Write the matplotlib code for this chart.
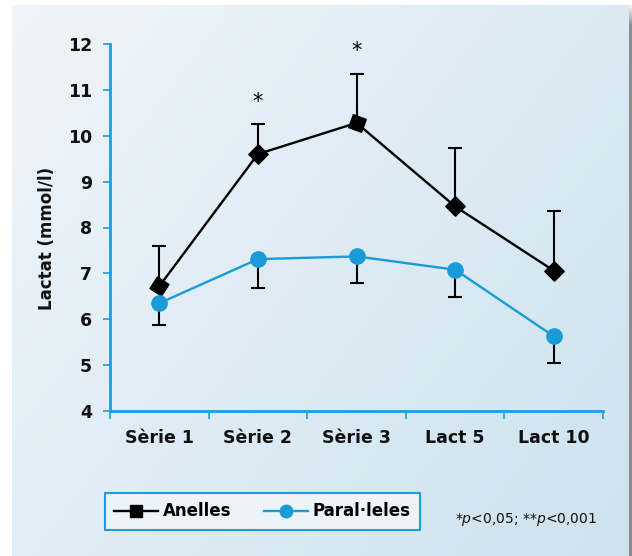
import numpy as np
import matplotlib
matplotlib.use("Agg")
import matplotlib.pyplot as plt
from matplotlib.lines import Line2D

plt.rcParams['font.family'] = ['DejaVu Sans']
plt.rcParams['mathtext.fontset'] = 'dejavusans'

# ---- data ----
categories = ["Sèrie 1", "Sèrie 2", "Sèrie 3", "Lact 5", "Lact 10"]
anelles = [6.72, 9.60, 10.28, 8.46, 7.06]
anelles_err_up = [0.88, 0.65, 1.06, 1.28, 1.29]
paralleles = [6.35, 7.31, 7.37, 7.08, 5.63]
paralleles_err_down = [0.47, 0.62, 0.59, 0.59, 0.59]
star_labels = ["", "*", "*", "", ""]
star_y = [None, 10.74, 11.84, None, None]
y_ticks = [4, 5, 6, 7, 8, 9, 10, 11, 12]
series_names = ["Anelles", "Paral·leles"]
footnote = r"*$\mathit{p}$<0,05; **$\mathit{p}$<0,001"

BLUE = "#1a9bd7"
AXBLUE = "#1e9ddb"

W, H = 632, 556
fig = plt.figure(figsize=(W / 100, H / 100), dpi=100)
fig.patch.set_facecolor("white")

# ---- gradient backdrop panel ----
bg = fig.add_axes([0, 0, 1, 1], zorder=-10)
bg.set_xlim(0, W)
bg.set_ylim(H, 0)
bg.axis("off")
gx = np.linspace(0, 1, 200)
gy = np.linspace(0, 1, 200)
GX, GY = np.meshgrid(gx, gy)
t = (GX * 0.6 + GY * 0.4)
c0 = np.array([0xef, 0xf5, 0xfa]) / 255
c1 = np.array([0xcd, 0xe2, 0xee]) / 255
img = c0[None, None, :] * (1 - t[..., None]) + c1[None, None, :] * t[..., None]
bg.imshow(img, extent=(12, 629, H, 5), aspect="auto", interpolation="bilinear")

# thin shadow strip on the right edge, fading in near the top
n = 200
levels = np.full(n, 0.55)
fade = 8
levels[:fade] = np.linspace(0.95, 0.55, fade)
shade_img = np.repeat(levels[:, None, None], 3, axis=2)
bg.imshow(shade_img, extent=(629, 632, H, 5), aspect="auto", interpolation="bilinear")

# ---- main axes ----
ax = fig.add_axes([110 / W, 1 - 411 / H, (603 - 110) / W, (411 - 44) / H])
ax.patch.set_alpha(0)
x = np.arange(len(categories))

# Anelles: upward error bars, black line, tilted square markers
ax.errorbar(x, anelles, yerr=[np.zeros(len(x)), anelles_err_up], fmt="none",
            ecolor="black", elinewidth=1.5, capsize=5, capthick=1.5, zorder=3)
ax.plot(x, anelles, color="black", lw=1.7, zorder=4)
marker_angles = [12, 0, 25, 0, 0]
for xi, yi, ang in zip(x, anelles, marker_angles):
    ax.plot([xi], [yi], marker=(4, 0, ang), ms=14, color="black",
            mec="black", ls="none", zorder=5)

# Paral·leles: downward error bars, blue line, circles
ax.errorbar(x, paralleles, yerr=[paralleles_err_down, np.zeros(len(x))], fmt="none",
            ecolor="black", elinewidth=1.5, capsize=5, capthick=1.5, zorder=3)
ax.plot(x, paralleles, color=BLUE, lw=1.7, marker="o", ms=11,
        mfc=BLUE, mec=BLUE, zorder=5)

for xi, lab, sy in zip(x, star_labels, star_y):
    if lab:
        ax.text(xi, sy, lab, ha="center", va="center", fontsize=15, color="black")

ax.set_xlim(-0.5, len(categories) - 0.5)
ax.set_ylim(4, 12)
ax.set_yticks(y_ticks)
ax.set_yticklabels([str(v) for v in y_ticks], fontsize=12.5, fontweight="bold", color="#111111")
ax.set_xticks(x)
ax.set_xticklabels(categories, fontsize=12.5, fontweight="bold", color="#111111")
ax.set_xticks(np.arange(-0.5, len(categories), 1.0), minor=True)
ax.tick_params(axis="x", which="major", length=0, pad=13)
ax.tick_params(axis="x", which="minor", length=6, width=1.2, color=AXBLUE, direction="out")
ax.tick_params(axis="y", length=5, width=1.2, color=AXBLUE, direction="out", pad=8)

for side in ("top", "right"):
    ax.spines[side].set_visible(False)
for side in ("left", "bottom"):
    ax.spines[side].set_color(AXBLUE)
    ax.spines[side].set_linewidth(2)

fig.text(47 / W, 1 - 238 / H, "Lactat (mmol/l)", rotation=90, ha="center", va="center",
         fontsize=12, fontweight="bold", color="#111111")

# ---- legend ----
handles = [
    Line2D([], [], color="black", lw=1.7, marker="s", ms=8, mfc="black", mec="black"),
    Line2D([], [], color=BLUE, lw=1.7, marker="o", ms=9, mfc=BLUE, mec=BLUE),
]
leg = fig.legend(handles, series_names, loc="center",
                 bbox_to_anchor=((105 + 420) / 2 / W, 1 - 511.5 / H),
                 ncol=2, frameon=True, fancybox=False, handlelength=2.6,
                 handletextpad=0.3, columnspacing=2.0, borderpad=0.55,
                 prop={"size": 12, "weight": "bold"})
frame = leg.get_frame()
frame.set_edgecolor(AXBLUE)
frame.set_linewidth(1.5)
frame.set_facecolor("#edf4f9")
frame.set_alpha(1)

fig.text(526 / W, 1 - 520 / H, footnote, ha="center", va="center", fontsize=10, color="#111111")

fig.savefig("out.png", dpi=100, facecolor=fig.get_facecolor())
